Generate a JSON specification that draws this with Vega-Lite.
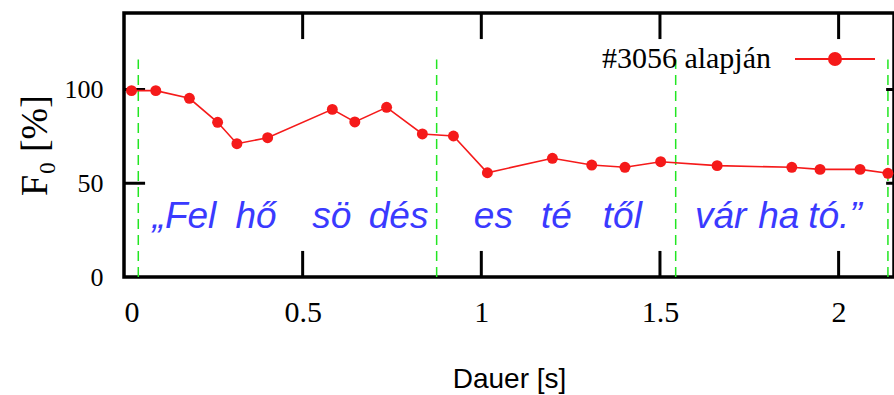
{
  "$schema": "https://vega.github.io/schema/vega-lite/v6.json",
  "width": 770,
  "height": 264,
  "autosize": "none",
  "padding": {"left": 124, "top": 13, "right": 0, "bottom": 118},
  "background": "white",
  "config": {"view": {"stroke": "black", "strokeWidth": 3.5}},
  "datasets": {
    "f0": [
      {"t": 0.021, "f0": 99.4, "series": "#3056 alapján"},
      {"t": 0.089, "f0": 99.4, "series": "#3056 alapján"},
      {"t": 0.183, "f0": 95.3, "series": "#3056 alapján"},
      {"t": 0.262, "f0": 82.5, "series": "#3056 alapján"},
      {"t": 0.316, "f0": 71.1, "series": "#3056 alapján"},
      {"t": 0.402, "f0": 74.3, "series": "#3056 alapján"},
      {"t": 0.583, "f0": 89.4, "series": "#3056 alapján"},
      {"t": 0.646, "f0": 82.7, "series": "#3056 alapján"},
      {"t": 0.735, "f0": 90.5, "series": "#3056 alapján"},
      {"t": 0.835, "f0": 76.3, "series": "#3056 alapján"},
      {"t": 0.922, "f0": 75.2, "series": "#3056 alapján"},
      {"t": 1.017, "f0": 55.6, "series": "#3056 alapján"},
      {"t": 1.199, "f0": 63.3, "series": "#3056 alapján"},
      {"t": 1.309, "f0": 59.7, "series": "#3056 alapján"},
      {"t": 1.402, "f0": 58.5, "series": "#3056 alapján"},
      {"t": 1.502, "f0": 61.5, "series": "#3056 alapján"},
      {"t": 1.660, "f0": 59.4, "series": "#3056 alapján"},
      {"t": 1.869, "f0": 58.5, "series": "#3056 alapján"},
      {"t": 1.948, "f0": 57.4, "series": "#3056 alapján"},
      {"t": 2.060, "f0": 57.4, "series": "#3056 alapján"},
      {"t": 2.138, "f0": 55.3, "series": "#3056 alapján"}
    ],
    "bounds": [
      {"t": 0.04}, {"t": 0.875}, {"t": 1.544}, {"t": 2.138}
    ],
    "xticks": [
      {"t": 0.5}, {"t": 1}, {"t": 1.5}, {"t": 2}
    ],
    "yticks": [
      {"v": 50}, {"v": 100}
    ],
    "syllables": [
      {"t": 0.080, "label": "„Fel"},
      {"t": 0.312, "label": "hő"},
      {"t": 0.527, "label": "sö"},
      {"t": 0.685, "label": "dés"},
      {"t": 0.979, "label": "es"},
      {"t": 1.167, "label": "té"},
      {"t": 1.340, "label": "től"},
      {"t": 1.598, "label": "vár"},
      {"t": 1.775, "label": "ha"},
      {"t": 1.915, "label": "tó.”"}
    ]
  },
  "layer": [
    {
      "data": {"name": "xticks"},
      "mark": {"type": "rule", "color": "black", "strokeWidth": 3},
      "encoding": {
        "x": {"field": "t", "type": "quantitative", "scale": {"domain": [0, 2.155], "nice": false, "zero": false}, "axis": null},
        "y": {"datum": 0, "type": "quantitative", "scale": {"domain": [0, 140.8], "nice": false}, "axis": null},
        "y2": {"datum": 13.9}
      }
    },
    {
      "data": {"name": "xticks"},
      "mark": {"type": "rule", "color": "black", "strokeWidth": 3},
      "encoding": {
        "x": {"field": "t", "type": "quantitative", "axis": null},
        "y": {"datum": 140.8, "type": "quantitative", "axis": null},
        "y2": {"datum": 126.9}
      }
    },
    {
      "data": {"name": "yticks"},
      "mark": {"type": "rule", "color": "black", "strokeWidth": 3},
      "encoding": {
        "y": {"field": "v", "type": "quantitative", "axis": null},
        "x": {"datum": 0, "type": "quantitative", "axis": null},
        "x2": {"datum": 0.059}
      }
    },
    {
      "data": {"name": "yticks"},
      "mark": {"type": "rule", "color": "black", "strokeWidth": 3},
      "encoding": {
        "y": {"field": "v", "type": "quantitative", "axis": null},
        "x": {"datum": 2.155, "type": "quantitative", "axis": null},
        "x2": {"datum": 2.133}
      }
    },
    {
      "data": {"name": "bounds"},
      "mark": {"type": "rule", "color": "#22e622", "strokeDash": [10, 6], "strokeWidth": 1.5},
      "encoding": {
        "x": {"field": "t", "type": "quantitative", "axis": null},
        "y": {"datum": 0, "type": "quantitative", "axis": null},
        "y2": {"datum": 116}
      }
    },
    {
      "data": {"name": "syllables"},
      "mark": {"type": "text", "align": "left", "baseline": "alphabetic", "font": "Liberation Sans", "fontStyle": "italic", "fontSize": 37, "color": "#3a3aff"},
      "encoding": {
        "x": {"field": "t", "type": "quantitative", "axis": null},
        "y": {"datum": 26, "type": "quantitative", "axis": null},
        "text": {"field": "label"}
      }
    },
    {
      "data": {"name": "f0"},
      "mark": {"type": "line", "point": {"filled": true, "size": 120}, "strokeWidth": 1.6},
      "encoding": {
        "x": {
          "field": "t", "type": "quantitative",
          "axis": {"orient": "bottom", "values": [0, 0.5, 1, 1.5, 2], "format": "~g", "ticks": false, "domain": false, "labelFont": "Liberation Serif", "labelFontSize": 30, "labelColor": "black", "labelPadding": 20, "grid": false, "title": "Dauer [s]", "titleFont": "Liberation Sans", "titleFontSize": 28, "titleFontWeight": "normal", "titleColor": "black", "titlePadding": 38}
        },
        "y": {
          "field": "f0", "type": "quantitative",
          "axis": {"orient": "left", "values": [0, 50, 100], "format": "d", "ticks": false, "domain": false, "labelFont": "Liberation Serif", "labelFontSize": 26, "labelColor": "black", "labelPadding": 21, "grid": false, "title": "F₀ [%]", "titleFont": "Liberation Serif", "titleFontSize": 38, "titleFontWeight": "normal", "titleColor": "black", "titlePadding": 10}
        },
        "color": {
          "field": "series", "type": "nominal",
          "scale": {"range": ["#f51a1a"]},
          "legend": {"orient": "none", "legendX": 670, "legendY": 5, "padding": 0, "title": null, "symbolType": "M-1,0L1,0M0.15,0A0.15,0.15,0,1,1,-0.15,0A0.15,0.15,0,1,1,0.15,0Z", "symbolSize": 6400, "symbolStrokeWidth": 2, "symbolFillColor": "#f51a1a", "symbolStrokeColor": "#f51a1a", "labelFont": "Liberation Serif", "labelFontSize": 30, "labelColor": "black", "labelAlign": "right", "labelOffset": -105, "labelLimit": 0}
        }
      }
    }
  ],
  "resolve": {"axis": {"x": "independent", "y": "independent"}}
}
